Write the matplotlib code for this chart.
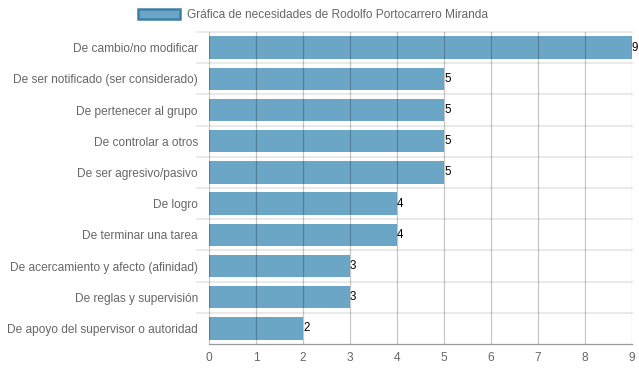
import matplotlib
matplotlib.use("Agg")
import matplotlib.pyplot as plt
from matplotlib.patches import Patch

categories = [
    "De cambio/no modificar",
    "De ser notificado (ser considerado)",
    "De pertenecer al grupo",
    "De controlar a otros",
    "De ser agresivo/pasivo",
    "De logro",
    "De terminar una tarea",
    "De acercamiento y afecto (afinidad)",
    "De reglas y supervisión",
    "De apoyo del supervisor o autoridad",
]
values = [9, 5, 5, 5, 5, 4, 4, 3, 3, 2]
series_label = "Gráfica de necesidades de Rodolfo Portocarrero Miranda"
xticks = list(range(0, 10))

plt.rcParams['font.family'] = ['Liberation Sans', 'DejaVu Sans']

fig = plt.figure(figsize=(6.39, 3.72), dpi=100)
ax = fig.add_axes([209/639, 1-344/372, (632-209)/639, (344-32)/372])

n = len(categories)
ypos = list(range(n))
ax.barh(ypos, values, height=0.72, color="#6ca6c6", zorder=2)
ax.set_ylim(n - 0.5, -0.5)
ax.set_xlim(0, 9)
ax.set_xticks(xticks)
ax.set_yticks(ypos)
ax.set_yticklabels(categories)

# vertical grid lines
for x in xticks:
    ax.axvline(x, color="black", alpha=0.22, lw=0.9, zorder=3)
# horizontal category separators
for b in [i - 0.5 for i in range(n)]:
    ax.plot([-12/47, 9], [b, b], color="#e6e6e6", lw=1.2, zorder=1, clip_on=False)

for s in ["top", "right", "left"]:
    ax.spines[s].set_visible(False)
ax.spines["bottom"].set_color("#999999")
ax.spines["bottom"].set_linewidth(0.9)

ax.tick_params(axis="y", length=0, pad=8, labelsize=8.6, labelcolor="#666666")
ax.tick_params(axis="x", length=0, pad=6, labelsize=8.6, labelcolor="#666666")

for i, v in enumerate(values):
    ax.text(v, i, str(v), ha="left", va="center", fontsize=8.3, color="black", zorder=4)

handle = Patch(facecolor="#6ca6c6", edgecolor="#3d7fa8", linewidth=1.8)
fig.legend([handle], [series_label], loc="upper center", bbox_to_anchor=(0.49, 1.005),
           frameon=False, fontsize=8.6, handlelength=3.5, handleheight=0.95,
           handletextpad=0.6, labelcolor="#666666")

fig.savefig("out.png", dpi=100)
